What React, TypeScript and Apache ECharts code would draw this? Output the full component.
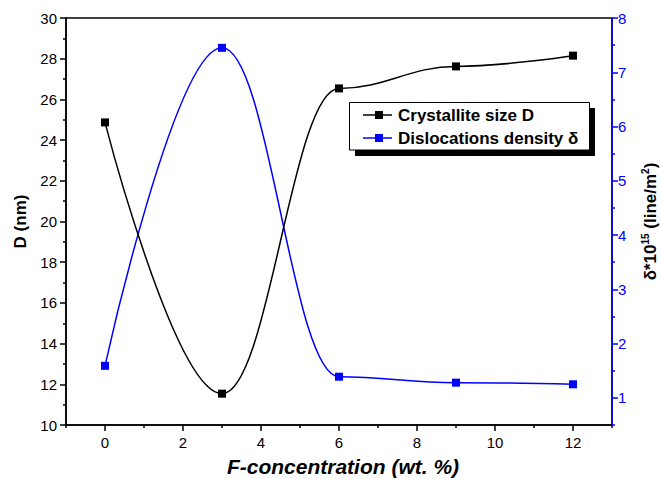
import React, { useEffect, useRef } from "react";
import * as echarts from "echarts";

const concentrations = [0, 3, 6, 9, 12];
const crystalliteSize = [24.87, 11.54, 26.54, 27.62, 28.15];
const dislocationDensity = [1.59, 7.45, 1.39, 1.28, 1.25];
const xMajorTicks = [0, 2, 4, 6, 8, 10, 12];
const xMinorTicks = [-1, 1, 3, 5, 7, 9, 11, 13];
const rightMajorTicks = [1, 2, 3, 4, 5, 6, 7, 8];
const rightMinorTicks = [0.5, 1.5, 2.5, 3.5, 4.5, 5.5, 6.5, 7.5];
const legendNames = ["Crystallite size D", "Dislocations density δ"];

const FONT = "'Liberation Sans', Arial, sans-serif";
const BLUE = "#0000ff";

export default function App() {
  const ref = useRef<HTMLDivElement>(null);
  useEffect(() => {
    if (!ref.current) return;
    const chart = echarts.init(ref.current, null, { renderer: "svg" });
    const labelStyle = { fontFamily: FONT, fontSize: 15, color: "#000" };
    const legendRows = [
      { name: legendNames[0], color: "#000", y: 115 },
      { name: legendNames[1], color: BLUE, y: 138 },
    ];
    const legendGraphics: any[] = [
      { type: "rect", shape: { x: 355, y: 108, width: 240, height: 48 }, style: { fill: "#000" } },
      { type: "rect", shape: { x: 349.5, y: 102.5, width: 240, height: 47.5 }, style: { fill: "#fff", stroke: "#000", lineWidth: 1 } },
    ];
    legendRows.forEach((r) => {
      legendGraphics.push(
        { type: "line", shape: { x1: 363, y1: r.y, x2: 392, y2: r.y }, style: { stroke: r.color, lineWidth: 1.5 } },
        { type: "rect", shape: { x: 375, y: r.y - 4, width: 8, height: 8 }, style: { fill: r.color } },
        {
          type: "text",
          x: 398,
          y: r.y,
          style: { text: r.name, font: `bold 17px ${FONT}`, fill: "#000", verticalAlign: "middle", align: "left" },
        }
      );
    });

    const makeSeries = (name: string, values: number[], yAxisIndex: number, color: string, z: number) => ({
      name,
      type: "line",
      xAxisIndex: 0,
      yAxisIndex,
      data: concentrations.map((c, i) => [c, values[i]]),
      smooth: 0.4,
      smoothMonotone: "x",
      symbol: "rect",
      symbolSize: 8,
      itemStyle: { color },
      lineStyle: { color, width: 1.5 },
      z,
    });

    chart.setOption({
      animation: false,
      backgroundColor: "#fff",
      grid: {
        left: 66,
        right: 49,
        top: 18,
        bottom: 54,
        containLabel: false,
        outerBoundsMode: "none",
        show: true,
        borderColor: "#000",
        borderWidth: 1.5,
        backgroundColor: "transparent",
      },
      xAxis: [
        {
          type: "value",
          min: -1,
          max: 13,
          name: "F-concentration (wt. %)",
          nameLocation: "middle",
          nameGap: 31,
          nameTextStyle: { fontFamily: FONT, fontSize: 21, fontWeight: "bold", fontStyle: "italic", color: "#000", padding: [0, 0, 0, 8] },
          axisLine: { show: true, onZero: false, lineStyle: { color: "#000", width: 1.5 } },
          axisTick: { show: true, customValues: xMajorTicks, length: 6, lineStyle: { color: "#000", width: 1.5 } },
          axisLabel: { customValues: xMajorTicks, margin: 10, ...labelStyle },
          splitLine: { show: false },
        },
        {
          type: "value",
          min: -1,
          max: 13,
          position: "bottom",
          axisLine: { show: false, onZero: false },
          axisTick: { show: true, customValues: xMinorTicks, length: 3, lineStyle: { color: "#000", width: 1.5 } },
          axisLabel: { show: false },
          splitLine: { show: false },
        },
      ],
      yAxis: [
        {
          type: "value",
          min: 10,
          max: 30,
          interval: 2,
          position: "left",
          name: "D (nm)",
          nameLocation: "middle",
          nameGap: 34,
          nameTextStyle: { fontFamily: FONT, fontSize: 17, fontWeight: "bold", color: "#000" },
          axisLine: { show: true, onZero: false, lineStyle: { color: "#000", width: 1.5 } },
          axisTick: { show: true, length: 6, lineStyle: { color: "#000", width: 1.5 } },
          minorTick: { show: true, splitNumber: 2, length: 3, lineStyle: { color: "#000", width: 1.5 } },
          axisLabel: { margin: 9, ...labelStyle },
          splitLine: { show: false },
        },
        {
          type: "value",
          min: 0.5,
          max: 8,
          position: "right",
          name: "{a|δ*10}{s|15}{a| (line/m}{s|2}{a|)}",
          nameLocation: "middle",
          nameRotate: 90,
          nameGap: 28,
          nameTextStyle: {
            rich: {
              a: { fontFamily: FONT, fontSize: 17, fontWeight: "bold", color: "#000", lineHeight: 20 },
              s: { fontFamily: FONT, fontSize: 10, fontWeight: "bold", color: "#000", lineHeight: 10, verticalAlign: "top" },
            },
          },
          axisLine: { show: true, onZero: false, lineStyle: { color: BLUE, width: 1.5 } },
          axisTick: { show: true, customValues: rightMajorTicks, length: 6, lineStyle: { color: BLUE, width: 1.5 } },
          axisLabel: { customValues: rightMajorTicks, margin: 6, fontFamily: FONT, fontSize: 15, color: BLUE },
          splitLine: { show: false },
        },
        {
          type: "value",
          min: 0.5,
          max: 8,
          position: "right",
          axisLine: { show: false, onZero: false },
          axisTick: { show: true, customValues: rightMinorTicks, length: 3, lineStyle: { color: BLUE, width: 1.5 } },
          axisLabel: { show: false },
          splitLine: { show: false },
        },
      ],
      series: [
        makeSeries(legendNames[0], crystalliteSize, 0, "#000", 3),
        makeSeries(legendNames[1], dislocationDensity, 1, BLUE, 2),
      ],
      graphic: legendGraphics,
    });
    return () => chart.dispose();
  }, []);
  return <div ref={ref} style={{ width: 661, height: 479, position: "absolute", left: 0, top: 0 }} />;
}
